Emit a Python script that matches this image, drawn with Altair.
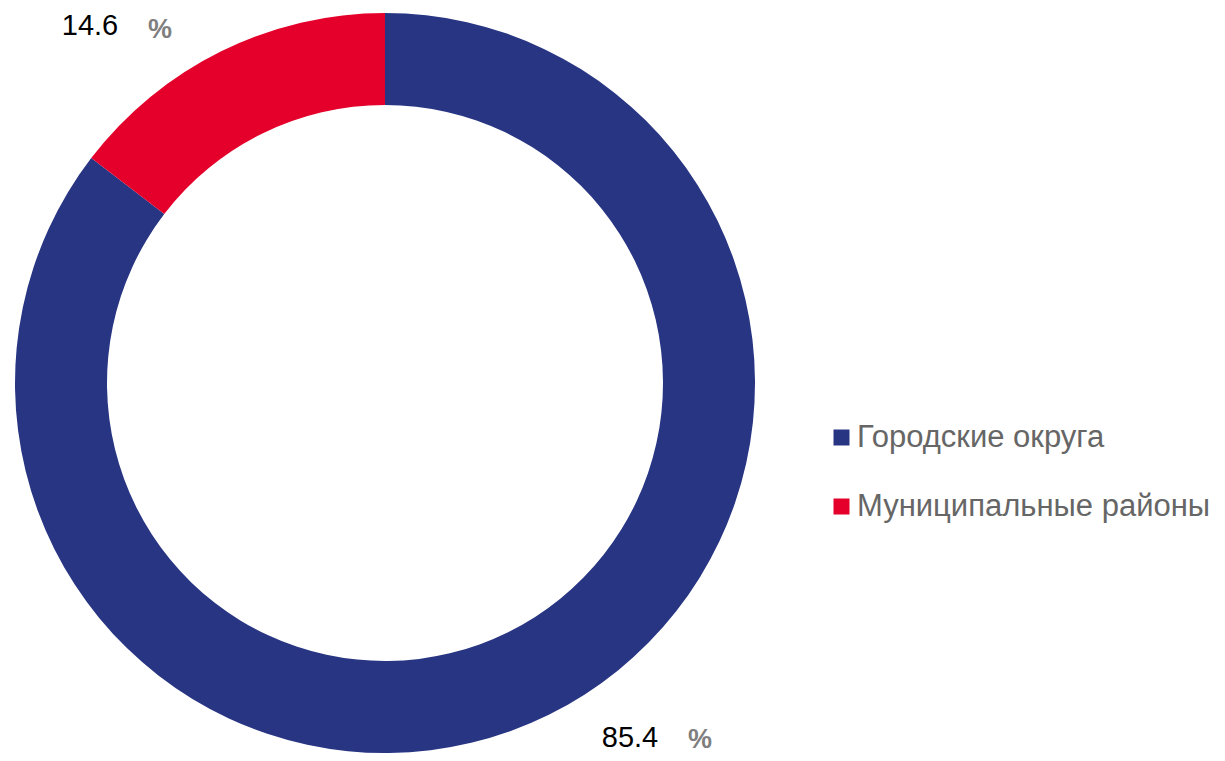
import altair as alt
import pandas as pd

categories = ["Городские округа", "Муниципальные районы"]
values = [85.4, 14.6]
value_labels = ["85.4", "14.6"]
colors = ["#283583", "#E4002B"]

df = pd.DataFrame({
    "category": categories,
    "value": values,
    "label": value_labels,
    "order": [0, 1],
})

base = alt.Chart(df)

donut = base.mark_arc(radius=370, radius2=278).encode(
    x=alt.value(377),
    y=alt.value(375),
    theta=alt.Theta("value:Q", stack=True),
    order=alt.Order("order:Q"),
    color=alt.Color(
        "category:N",
        scale=alt.Scale(domain=categories, range=colors),
        sort=categories,
        legend=alt.Legend(
            title=None,
            orient="none",
            legendX=818,
            legendY=414,
            symbolType="square",
            symbolSize=256,
            symbolStrokeWidth=0,
            labelFont="Liberation Sans",
            labelFontSize=31,
            labelColor="#666666",
            labelOffset=0,
            rowPadding=37,
            padding=0,
            labelLimit=500,
        ),
    ),
)

def value_label(cat, x, y, px, py):
    d = base.transform_filter(alt.datum.category == cat)
    num = d.mark_text(
        font="Liberation Sans", fontSize=29, color="#000000",
        align="center", baseline="alphabetic",
    ).encode(text="label:N", x=alt.value(x), y=alt.value(y))
    pct = d.mark_text(
        font="Liberation Sans", fontSize=27, fontWeight="bold", color="#7f7f7f",
        align="center", baseline="alphabetic", text="%",
    ).encode(x=alt.value(px), y=alt.value(py))
    return num + pct

lab1 = value_label("Муниципальные районы", 82, 27, 152, 30)
lab2 = value_label("Городские округа", 622, 739, 692, 740)

chart = alt.layer(donut, lab1, lab2).properties(
    width=1209,
    height=745,
    padding=0,
    autosize=alt.AutoSizeParams(type="fit", contains="padding"),
).configure_view(stroke=None)

chart.save("out.html", embed_options={"renderer": "svg", "actions": False})
